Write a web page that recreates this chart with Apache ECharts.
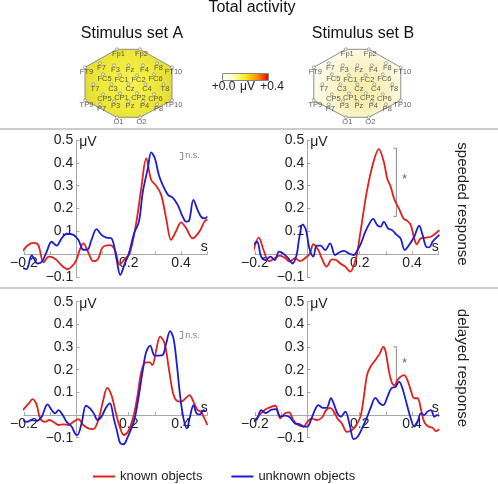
<!DOCTYPE html>
<html>
<head>
<meta charset="utf-8">
<script src="https://cdn.jsdelivr.net/npm/echarts@6/dist/echarts.min.js"></script>
<style>html,body{margin:0;padding:0;background:#fff}#c{width:498px;height:484px}</style>
</head>
<body>
<div id="c"></div>
<script>
// ---------- data ----------
const seriesNames = ['known objects', 'unknown objects'];
const xTickLabels = [-0.2, 0.2, 0.4];
const yTickLabels = [-0.1, 0.1, 0.2, 0.3, 0.4, 0.5];

// Stimulus set A, speeded response
const aSpeedKnown = [[-0.204,0.015],[-0.185,0.04],[-0.163,0.05],[-0.145,0.04],[-0.125,-0.035],[-0.105,-0.01],[-0.08,-0.02],[-0.055,-0.05],[-0.033,-0.065],[-0.015,-0.05],[0,-0.025],[0.015,0.025],[0.027,0.048],[0.045,0.01],[0.065,-0.03],[0.083,-0.02],[0.1,0.03],[0.128,0.04],[0.147,0.02],[0.166,-0.045],[0.185,-0.02],[0.204,0.005],[0.229,0.14],[0.248,0.29],[0.267,0.42],[0.286,0.325],[0.305,0.30],[0.324,0.26],[0.343,0.157],[0.362,0.063],[0.38,0.10],[0.40,0.14],[0.42,0.113],[0.444,0.07],[0.47,0.10],[0.489,0.143],[0.50,0.153]];
const aSpeedUnknown = [[-0.204,-0.06],[-0.19,-0.065],[-0.17,-0.005],[-0.148,-0.04],[-0.13,-0.03],[-0.113,0.012],[-0.094,0.055],[-0.075,0.038],[-0.056,0.07],[-0.037,0.09],[-0.011,0.085],[0.008,0.063],[0.027,0.02],[0.042,0.02],[0.058,0.063],[0.077,0.11],[0.096,0.085],[0.115,0.073],[0.134,0.07],[0.153,-0.017],[0.168,-0.09],[0.185,-0.04],[0.2,0.0],[0.22,0.09],[0.239,0.143],[0.254,0.274],[0.273,0.376],[0.286,0.446],[0.3,0.42],[0.315,0.347],[0.33,0.303],[0.35,0.26],[0.368,0.248],[0.387,0.216],[0.406,0.165],[0.419,0.143],[0.43,0.146],[0.447,0.238],[0.463,0.194],[0.476,0.165],[0.489,0.157],[0.50,0.165]];

// Stimulus set B, speeded response
const bSpeedKnown = [[-0.208,0.005],[-0.185,0.073],[-0.167,0.019],[-0.146,-0.03],[-0.124,-0.017],[-0.105,-0.006],[-0.086,-0.015],[-0.067,-0.032],[-0.047,-0.017],[-0.028,-0.03],[-0.009,-0.017],[0.01,0.004],[0.023,0.044],[0.042,0.019],[0.055,-0.017],[0.074,-0.054],[0.094,-0.022],[0.11,-0.025],[0.126,-0.04],[0.145,-0.054],[0.164,-0.076],[0.18,-0.04],[0.19,0.004],[0.209,0.143],[0.228,0.28],[0.254,0.41],[0.273,0.46],[0.292,0.405],[0.305,0.332],[0.318,0.296],[0.333,0.238],[0.35,0.20],[0.367,0.157],[0.382,0.146],[0.395,0.128],[0.408,0.07],[0.418,0.044],[0.433,0.07],[0.453,0.073],[0.472,0.077],[0.49,0.092],[0.504,0.106]];
const bSpeedUnknown = [[-0.208,0.04],[-0.192,0.055],[-0.176,-0.01],[-0.159,-0.025],[-0.141,-0.01],[-0.124,-0.025],[-0.108,0.012],[-0.092,0.004],[-0.073,-0.017],[-0.056,-0.04],[-0.041,-0.003],[-0.031,0.07],[-0.018,0.131],[-0.005,0.106],[0.008,0.026],[0.023,-0.01],[0.036,0.038],[0.051,0.038],[0.068,0.019],[0.087,0.048],[0.106,-0.003],[0.123,0.009],[0.141,0.015],[0.158,0.004],[0.177,-0.003],[0.192,0.019],[0.205,0.048],[0.222,0.1],[0.241,0.143],[0.251,0.155],[0.267,0.128],[0.28,0.121],[0.292,0.143],[0.308,0.114],[0.324,0.106],[0.341,0.085],[0.356,0.07],[0.372,0.019],[0.388,0.04],[0.408,0.077],[0.427,0.125],[0.44,0.085],[0.453,0.034],[0.465,0.03],[0.478,0.055],[0.49,0.07],[0.504,0.085]];

// Stimulus set A, delayed response
const aDelayKnown = [[-0.204,0.022],[-0.182,0.05],[-0.167,0.07],[-0.151,0.044],[-0.138,-0.015],[-0.119,-0.03],[-0.103,-0.022],[-0.085,-0.032],[-0.068,-0.044],[-0.049,-0.041],[-0.03,-0.044],[-0.011,-0.03],[0.008,-0.018],[0.027,-0.044],[0.046,-0.059],[0.065,-0.062],[0.084,-0.022],[0.103,0.066],[0.118,0.12],[0.134,0.088],[0.153,0],[0.168,-0.059],[0.181,-0.088],[0.197,-0.074],[0.216,-0.015],[0.232,0.074],[0.248,0.19],[0.265,0.232],[0.28,0.232],[0.29,0.22],[0.305,0.287],[0.32,0.346],[0.337,0.316],[0.353,0.206],[0.368,0.103],[0.381,0.066],[0.4,0.059],[0.419,0.076],[0.432,0.088],[0.447,0.059],[0.463,0.022],[0.476,0.015],[0.489,-0.015],[0.50,-0.044]];
const aDelayUnknown = [[-0.204,-0.022],[-0.189,-0.03],[-0.17,-0.022],[-0.153,-0.026],[-0.132,-0.007],[-0.11,0.047],[-0.094,0.022],[-0.081,0.007],[-0.068,0.022],[-0.052,0],[-0.037,-0.03],[-0.018,-0.051],[-0.005,-0.081],[0.004,-0.088],[0.02,-0.037],[0.037,0.041],[0.052,0.029],[0.067,0.007],[0.081,-0.022],[0.096,-0.007],[0.113,0.032],[0.128,0.051],[0.143,-0.015],[0.156,-0.074],[0.168,-0.125],[0.181,-0.129],[0.194,-0.103],[0.21,-0.059],[0.223,-0.015],[0.239,0.088],[0.254,0.199],[0.267,0.279],[0.282,0.306],[0.299,0.262],[0.315,0.262],[0.33,0.265],[0.343,0.316],[0.358,0.37],[0.371,0.338],[0.384,0.22],[0.396,0.088],[0.409,-0.015],[0.422,-0.059],[0.434,-0.007],[0.447,0.044],[0.459,0.007],[0.472,0.003],[0.485,0.022],[0.495,0.015]];

// Stimulus set B, delayed response
const bDelayKnown = [[-0.208,-0.03],[-0.188,-0.007],[-0.163,0.022],[-0.14,0.035],[-0.122,0.041],[-0.103,-0.015],[-0.086,0.007],[-0.069,0.012],[-0.054,-0.022],[-0.035,-0.044],[-0.015,-0.051],[0,-0.03],[0.017,-0.015],[0.036,-0.022],[0.055,-0.012],[0.072,0.022],[0.087,0.032],[0.1,0.018],[0.115,-0.015],[0.132,-0.037],[0.151,-0.074],[0.171,-0.066],[0.187,-0.044],[0.203,-0.007],[0.215,0.074],[0.228,0.176],[0.241,0.213],[0.26,0.243],[0.277,0.272],[0.29,0.301],[0.299,0.279],[0.312,0.191],[0.324,0.14],[0.333,0.132],[0.344,0.154],[0.356,0.169],[0.369,0.176],[0.382,0.154],[0.395,0.11],[0.408,0.074],[0.421,0.074],[0.433,0.029],[0.446,-0.03],[0.462,-0.051],[0.478,-0.056],[0.491,-0.071],[0.504,-0.062]];
const bDelayUnknown = [[-0.208,-0.03],[-0.192,-0.018],[-0.176,0.022],[-0.159,0.009],[-0.137,0.024],[-0.12,0.026],[-0.103,-0.007],[-0.086,-0.003],[-0.067,-0.01],[-0.047,-0.037],[-0.028,-0.041],[-0.013,-0.051],[0,-0.051],[0.017,-0.012],[0.029,0.022],[0.042,0.044],[0.059,0.032],[0.074,0.032],[0.09,0.074],[0.103,0.044],[0.115,0.007],[0.128,-0.007],[0.145,0.015],[0.162,-0.044],[0.177,-0.106],[0.192,-0.096],[0.209,-0.059],[0.226,-0.015],[0.241,0.029],[0.26,0.076],[0.277,0.051],[0.29,0.044],[0.305,0.078],[0.321,0.118],[0.337,0.125],[0.35,0.147],[0.363,0.118],[0.379,0.051],[0.395,-0.015],[0.408,-0.051],[0.421,-0.03],[0.433,0.007],[0.446,0],[0.459,0.015],[0.472,0.022],[0.485,-0.007],[0.495,0],[0.504,-0.003]];

// significance brackets: [x, yTop, yBottom], annotation text
const aSpeedBracket = [0.406, 0.445, 0.415]; const aSpeedNote = 'n.s.';
const bSpeedBracket = [0.34, 0.464, 0.165];  const bSpeedNote = '*';
const aDelayBracket = [0.406, 0.368, 0.338]; const aDelayNote = 'n.s.';
const bDelayBracket = [0.34, 0.301, 0.132];  const bDelayNote = '*';

// electrode layout (topographic coordinates)
const electrodeNames = ['Fp1','Fp2','F7','F3','Fz','F4','F8','FT9','FT10','FC5','FC1','FC2','FC6','T7','C3','Cz','C4','T8','CP5','CP1','CP2','CP6','TP9','TP10','P7','P3','Pz','P4','P8','O1','O2'];
const electrodeX = [-11.5,11.5,-28.5,-14.5,0,14.5,28.5,-43.5,43.5,-25.5,-8.5,8.5,25.5,-35,-17,0,17,35,-25.5,-8.5,8.5,25.5,-43.5,43.5,-28.5,-14.5,0,14.5,28.5,-11.5,11.5];
const electrodeY = [35,35,21,19,19,19,21,17,17,10,9,9,10,0,0,0,0,0,-10,-9,-9,-10,-16,-16,-20,-17,-17,-17,-20,-33,-33];
const headOutline = ['Fp1','Fp2','FT10','TP10','O2','O1','TP9','FT9'];

// ---------- chart ----------
const FONT = 'Liberation Sans, Arial, Helvetica, sans-serif';
const RED = '#e3201c', BLUE = '#1c1cd2';
const chart = echarts.init(document.getElementById('c'), null, {renderer: 'canvas'});

function fmt(v) {
  const s = Math.abs(v).toFixed(1);
  return v < 0 ? '\u2212' + s : s;
}
function inList(list, v) { return list.some(t => Math.abs(t - v) < 1e-6); }

const X_MIN = -0.2, X_MAX = 0.5, Y_MIN = -0.1, Y_MAX = 0.5;
const panelGrids = [
  {left: 23.9, top: 140, width: 183.4, height: 137.2},
  {left: 254.9, top: 140, width: 183.4, height: 137.2},
  {left: 23.9, top: 301.7, width: 183.4, height: 136},
  {left: 254.9, top: 301.7, width: 183.4, height: 136}
];
const headGrids = [
  {left: 78.5, top: 44.3, width: 100, height: 80},
  {left: 307.3, top: 44.3, width: 100, height: 80}
];
const grids = panelGrids.concat(headGrids);

const axisGray = '#a8a8a8';
const xAxes = [], yAxes = [];
for (let g = 0; g < 4; g++) {
  const gr = panelGrids[g];
  // axes cross at zero: shift each axis from the grid edge to the zero line
  const xOff = -(0 - Y_MIN) / (Y_MAX - Y_MIN) * gr.height;
  const yOff = -(0 - X_MIN) / (X_MAX - X_MIN) * gr.width;
  xAxes.push({
    gridIndex: g, type: 'value', min: X_MIN, max: X_MAX, interval: 0.1,
    position: 'bottom', offset: xOff,
    axisLine: {show: true, onZero: false, lineStyle: {color: axisGray, width: 1}},
    axisTick: {show: true, inside: true, length: 3, lineStyle: {color: axisGray}},
    splitLine: {show: false},
    axisLabel: {margin: 2, fontSize: 14, color: '#222', fontFamily: FONT,
      formatter: v => inList(xTickLabels, v) ? fmt(v) : ''},
    name: 's', nameLocation: 'end', nameGap: -3,
    nameTextStyle: {fontSize: 14, color: '#222', fontFamily: FONT, align: 'center', verticalAlign: 'bottom', padding: [0,0,0,0]}
  });
  yAxes.push({
    gridIndex: g, type: 'value', min: Y_MIN, max: Y_MAX, interval: 0.1,
    position: 'left', offset: yOff,
    axisLine: {show: true, onZero: false, lineStyle: {color: axisGray, width: 1}},
    axisTick: {show: true, inside: true, length: 3, lineStyle: {color: axisGray}},
    splitLine: {show: false},
    axisLabel: {margin: 3, fontSize: 14, color: '#222', fontFamily: FONT,
      formatter: v => inList(yTickLabels, v) ? fmt(v) : ''},
    name: '\u03bcV', nameLocation: 'end', nameGap: -2,
    nameTextStyle: {fontSize: 14, color: '#222', fontFamily: FONT, align: 'left', verticalAlign: 'middle', padding: [0,0,0,3]}
  });
}
for (let h = 0; h < 2; h++) {
  xAxes.push({gridIndex: 4 + h, type: 'value', min: -50, max: 50, show: false});
  yAxes.push({gridIndex: 4 + h, type: 'value', min: -40, max: 40, show: false});
}

const panels = [
  {known: aSpeedKnown, unknown: aSpeedUnknown, bracket: aSpeedBracket, note: aSpeedNote},
  {known: bSpeedKnown, unknown: bSpeedUnknown, bracket: bSpeedBracket, note: bSpeedNote},
  {known: aDelayKnown, unknown: aDelayUnknown, bracket: aDelayBracket, note: aDelayNote},
  {known: bDelayKnown, unknown: bDelayUnknown, bracket: bDelayBracket, note: bDelayNote}
];

const series = [];
panels.forEach((p, g) => {
  [[p.known, RED, seriesNames[0]], [p.unknown, BLUE, seriesNames[1]]].forEach(([d, col, nm]) => {
    series.push({
      type: 'line', name: nm, xAxisIndex: g, yAxisIndex: g, data: d,
      smooth: 0.35, symbol: 'none', clip: false, z: 3,
      lineStyle: {color: col, width: 1.8}, itemStyle: {color: col}
    });
  });
  const [bx, bt, bb] = p.bracket;
  const tick = 0.011;
  series.push({
    type: 'line', name: 'bracket', xAxisIndex: g, yAxisIndex: g, silent: true,
    data: [[bx - tick, bt], [bx, bt], [bx, bb], [bx - tick, bb]],
    symbol: 'none', clip: false, smooth: false, z: 2,
    lineStyle: {color: '#8a8a8a', width: 1}
  });
  const isStar = p.note === '*';
  series.push({
    type: 'scatter', name: 'note', xAxisIndex: g, yAxisIndex: g, silent: true,
    data: [[bx + (isStar ? 0.022 : 0.01), (bt + bb) / 2 + (isStar ? 0.01 : 0)]],
    symbolSize: 0, z: 4,
    label: {show: true, position: 'right', distance: 0, formatter: p.note,
      fontSize: isStar ? 12 : 9, color: isStar ? '#333' : '#666', fontFamily: FONT}
  });
});

const headFills = [
  {type: 'radial', x: 0.5, y: 0.5, r: 0.65, colorStops: [
    {offset: 0, color: '#f6f250'}, {offset: 0.6, color: '#efe93c'}, {offset: 1, color: '#e4dc34'}]},
  {type: 'radial', x: 0.55, y: 0.62, r: 0.7, colorStops: [
    {offset: 0, color: '#f5ec9e'}, {offset: 0.55, color: '#f9f3c6'}, {offset: 1, color: '#fefcee'}]}
];
for (let h = 0; h < 2; h++) {
  series.push({
    type: 'custom', name: 'head', xAxisIndex: 4 + h, yAxisIndex: 4 + h, silent: true,
    data: [[0, 0]], clip: false, z: 1,
    renderItem: (params, api) => {
      const pts = headOutline.map(n => {
        const i = electrodeNames.indexOf(n);
        return api.coord([electrodeX[i], electrodeY[i]]);
      });
      return {type: 'polygon', shape: {points: pts},
        style: {fill: headFills[h], stroke: '#8c8c8c', lineWidth: 1}};
    }
  });
  series.push({
    type: 'scatter', name: 'electrodes', xAxisIndex: 4 + h, yAxisIndex: 4 + h, silent: true,
    data: electrodeNames.map((n, i) => ({name: n, value: [electrodeX[i], electrodeY[i]]})),
    symbol: 'circle', symbolSize: 3, z: 5,
    itemStyle: {color: '#ffffff', borderColor: '#777', borderWidth: 0.8},
    label: {show: true, position: 'inside', offset: [1.5, 4.5], formatter: '{b}',
      fontSize: 7.5, color: '#333', fontFamily: FONT}
  });
}

const option = {
  animation: false,
  backgroundColor: '#fff',
  textStyle: {fontFamily: FONT},
  title: [
    {text: 'Total activity', left: 252, top: 0, textAlign: 'center', padding: 0,
      textStyle: {fontSize: 16, fontWeight: 'normal', color: '#111', fontFamily: FONT}},
    {text: 'Stimulus set A', left: 132, top: 26, textAlign: 'center', padding: 0,
      textStyle: {fontSize: 16, fontWeight: 'normal', color: '#111', fontFamily: FONT}},
    {text: 'Stimulus set B', left: 363, top: 26, textAlign: 'center', padding: 0,
      textStyle: {fontSize: 16, fontWeight: 'normal', color: '#111', fontFamily: FONT}}
  ],
  legend: {
    data: seriesNames, left: 93, top: 470, padding: 0, icon: 'rect',
    itemWidth: 22, itemHeight: 2, itemGap: 29, selectedMode: false,
    textStyle: {fontSize: 13, color: '#222', fontFamily: FONT, padding: [0,0,0,0]}
  },
  grid: grids,
  xAxis: xAxes,
  yAxis: yAxes,
  series: series,
  graphic: [
    {type: 'line', shape: {x1: 0, y1: 129, x2: 498, y2: 129}, style: {stroke: '#9a9a9a', lineWidth: 1.2}, silent: true},
    {type: 'line', shape: {x1: 0, y1: 288, x2: 498, y2: 288}, style: {stroke: '#9a9a9a', lineWidth: 1.2}, silent: true},
    {type: 'rect', shape: {x: 222.5, y: 73.5, width: 46, height: 7},
      style: {fill: {type: 'linear', x: 0, y: 0, x2: 1, y2: 0, colorStops: [
        {offset: 0, color: '#ffffff'}, {offset: 0.25, color: '#fffbc0'}, {offset: 0.5, color: '#ffee10'},
        {offset: 0.75, color: '#ff9000'}, {offset: 1, color: '#e00000'}]}, stroke: '#888', lineWidth: 1}, silent: true},
    {type: 'text', x: 223.5, y: 87, style: {text: '+0.0', font: '12px ' + FONT, fill: '#222', align: 'center', verticalAlign: 'middle', textAlign: 'center', textVerticalAlign: 'middle'}, silent: true},
    {type: 'text', x: 247.5, y: 87, style: {text: '\u03bcV', font: '12px ' + FONT, fill: '#222', align: 'center', verticalAlign: 'middle', textAlign: 'center', textVerticalAlign: 'middle'}, silent: true},
    {type: 'text', x: 272, y: 87, style: {text: '+0.4', font: '12px ' + FONT, fill: '#222', align: 'center', verticalAlign: 'middle', textAlign: 'center', textVerticalAlign: 'middle'}, silent: true},
    {type: 'text', x: 462, y: 204, rotation: -Math.PI / 2, style: {text: 'speeded response', font: '15px ' + FONT, fill: '#222', align: 'center', verticalAlign: 'middle', textAlign: 'center', textVerticalAlign: 'middle'}, silent: true},
    {type: 'text', x: 462, y: 368, rotation: -Math.PI / 2, style: {text: 'delayed response', font: '15px ' + FONT, fill: '#222', align: 'center', verticalAlign: 'middle', textAlign: 'center', textVerticalAlign: 'middle'}, silent: true}
  ]
};
chart.setOption(option);
</script>
</body>
</html>
